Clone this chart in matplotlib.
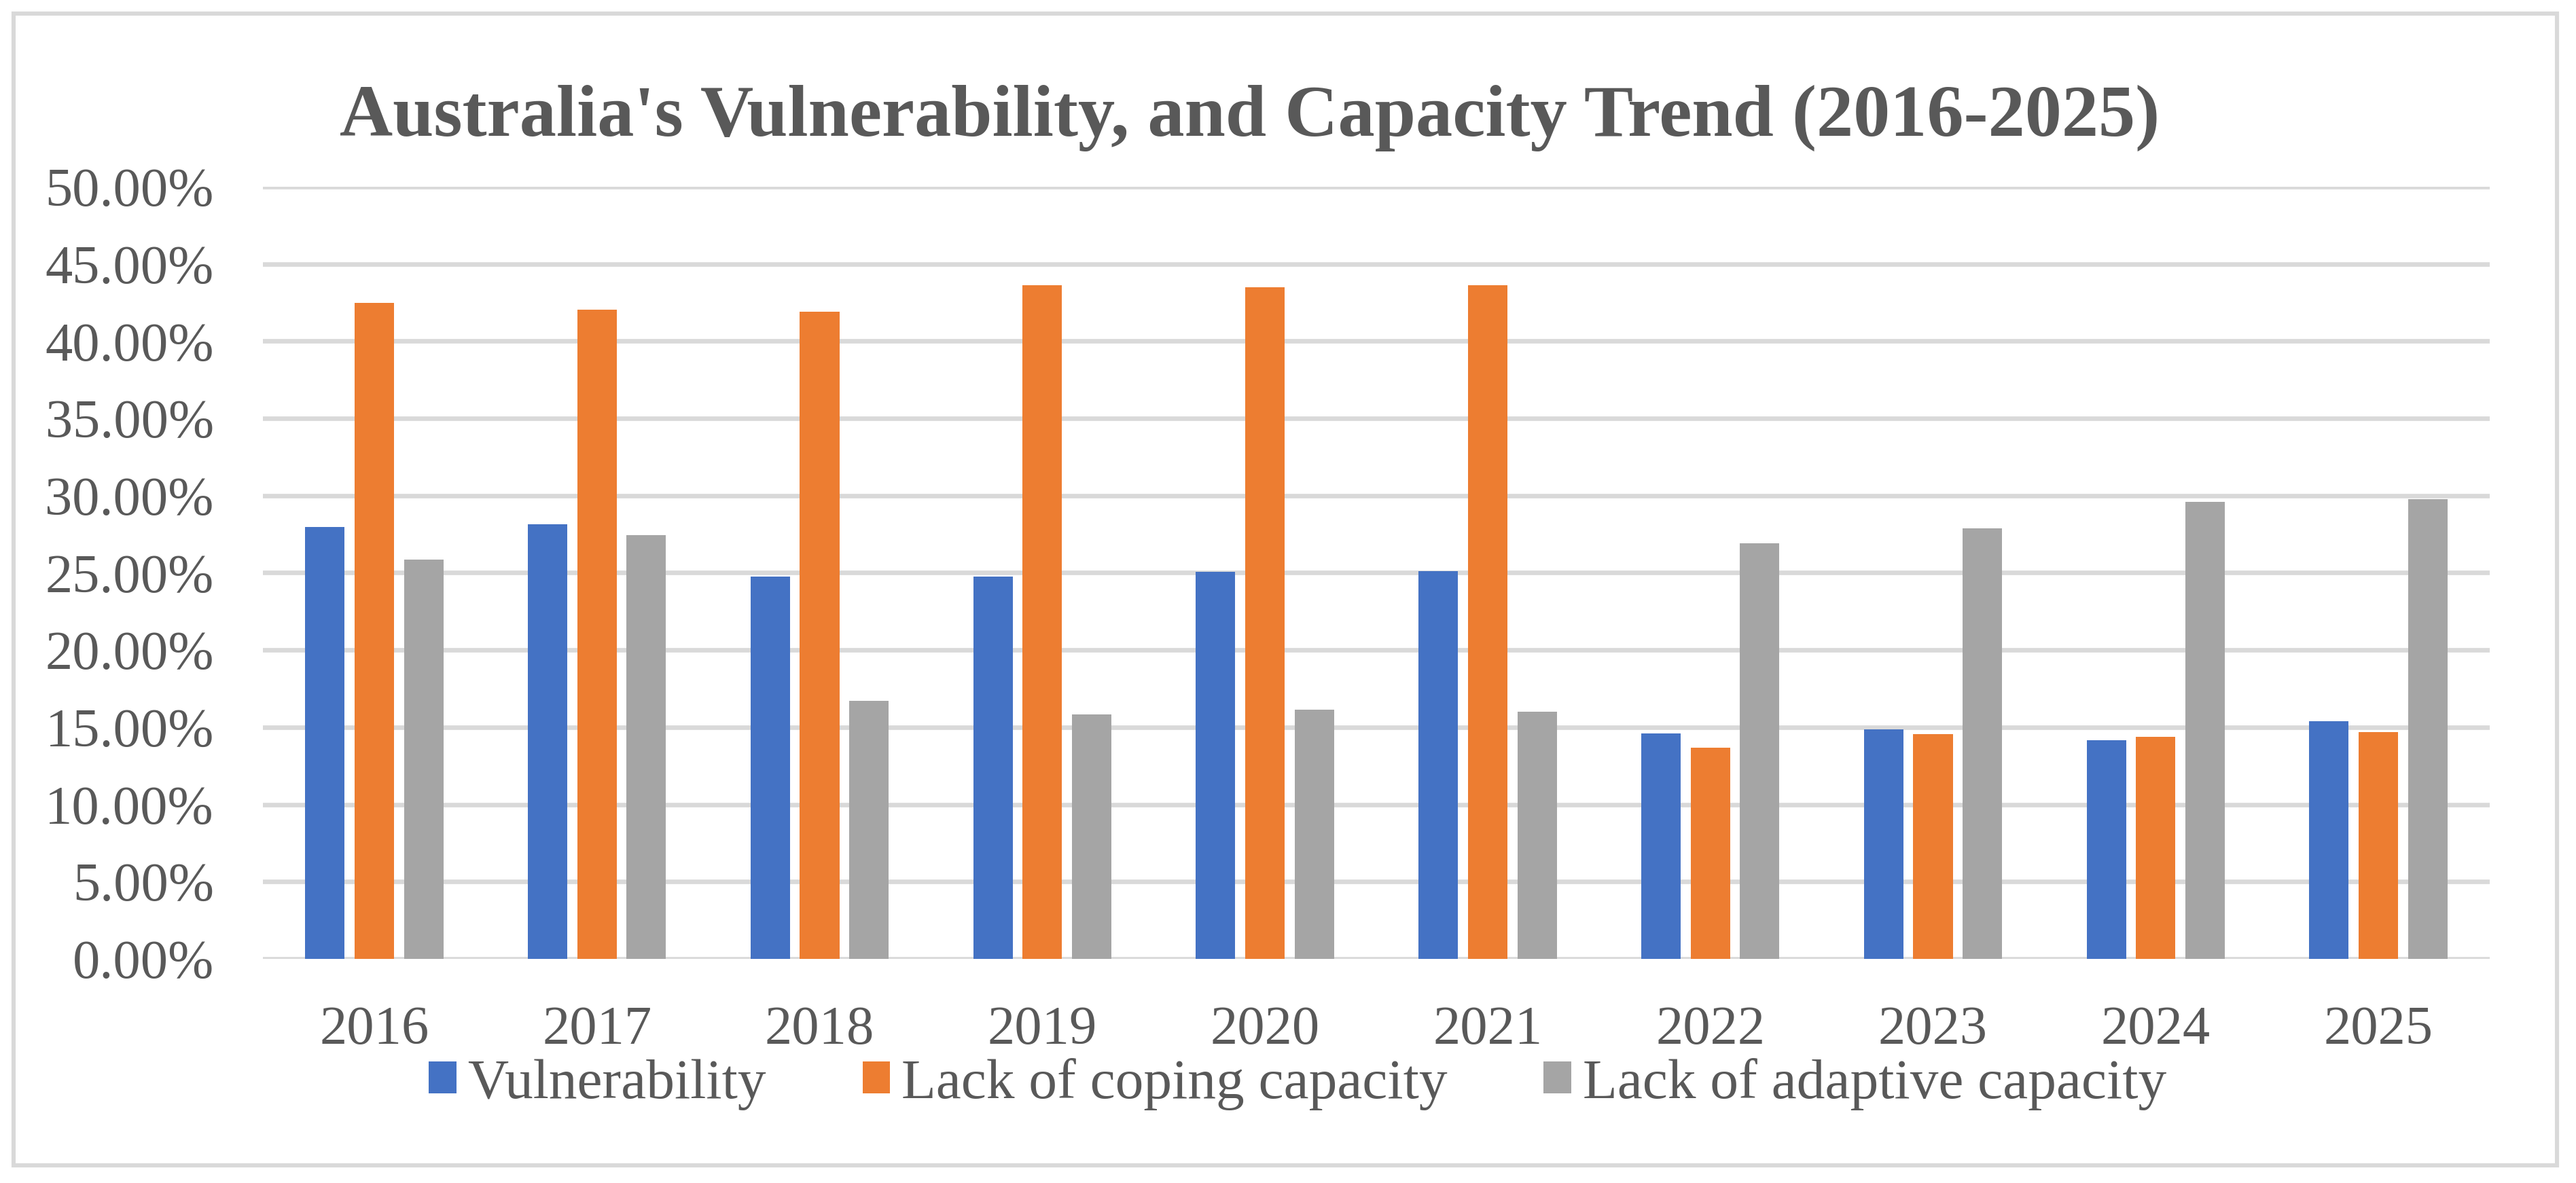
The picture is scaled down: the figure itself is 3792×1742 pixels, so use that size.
import numpy as np
import matplotlib.pyplot as plt
from matplotlib.patches import Rectangle
from matplotlib.ticker import PercentFormatter

years = ["2016", "2017", "2018", "2019", "2020", "2021", "2022", "2023", "2024", "2025"]
vulnerability = [27.99, 28.16, 24.76, 24.76, 25.07, 25.13, 14.60, 14.87, 14.17, 15.38]
coping = [42.50, 42.03, 41.92, 43.64, 43.51, 43.64, 13.66, 14.54, 14.37, 14.67]
adaptive = [25.84, 27.46, 16.72, 15.85, 16.15, 16.02, 26.92, 27.86, 29.61, 29.78]

series = ["Vulnerability", "Lack of coping capacity", "Lack of adaptive capacity"]
colors = ["#4472C4", "#ED7D31", "#A5A5A5"]
text_color = "#595959"
grid_color = "#D9D9D9"

fonts = ["Liberation Serif", "DejaVu Serif"]
plt.rcParams["font.family"] = fonts

W, H, dpi = 3792, 1742, 200
fig = plt.figure(figsize=(W / dpi, H / dpi), dpi=dpi)
ax = fig.add_axes([387 / W, 1 - 1412 / H, (3665 - 387) / W, (1412 - 275) / H])

x = np.arange(len(years))
width = 0.177
step = 0.222
for i, (vals, name, c) in enumerate(zip([vulnerability, coping, adaptive], series, colors)):
    ax.bar(x + (i - 1) * step, np.array(vals) / 100, width, color=c, label=name, zorder=3)

ax.set_xlim(-0.5, len(years) - 0.5)
ax.set_ylim(0, 0.5)
ax.set_yticks(np.arange(0, 0.501, 0.05))
ax.yaxis.set_major_formatter(PercentFormatter(1.0, decimals=2))
ax.set_xticks(x)
ax.set_xticklabels(years)
ax.grid(axis="y", color=grid_color, linewidth=2.4, zorder=0)
ax.set_axisbelow(True)
for s in ax.spines.values():
    s.set_visible(False)
ax.tick_params(axis="y", length=0, pad=26, labelsize=29, labelcolor=text_color)
ax.tick_params(axis="x", length=0, pad=25, labelsize=29, labelcolor=text_color)

fig.text(1840 / W, 1 - 200 / H, "Australia's Vulnerability, and Capacity Trend (2016-2025)",
         ha="center", va="baseline", fontsize=39, fontweight="bold", color=text_color)

fig.legend(loc="center", bbox_to_anchor=(1910 / W, 1 - 1596 / H), ncol=3, frameon=False,
           prop={"family": fonts, "size": 30}, handlelength=0.49, handleheight=0.49,
           handletextpad=0.2, columnspacing=1.7, borderpad=0, labelcolor=text_color)

fig.patches.append(Rectangle((20 / W, 1 - 1716 / H), (3764 - 20) / W, (1716 - 20) / H,
                             transform=fig.transFigure, fill=False,
                             edgecolor=grid_color, linewidth=2.2))

fig.savefig("out.png", dpi=dpi, facecolor="white")
